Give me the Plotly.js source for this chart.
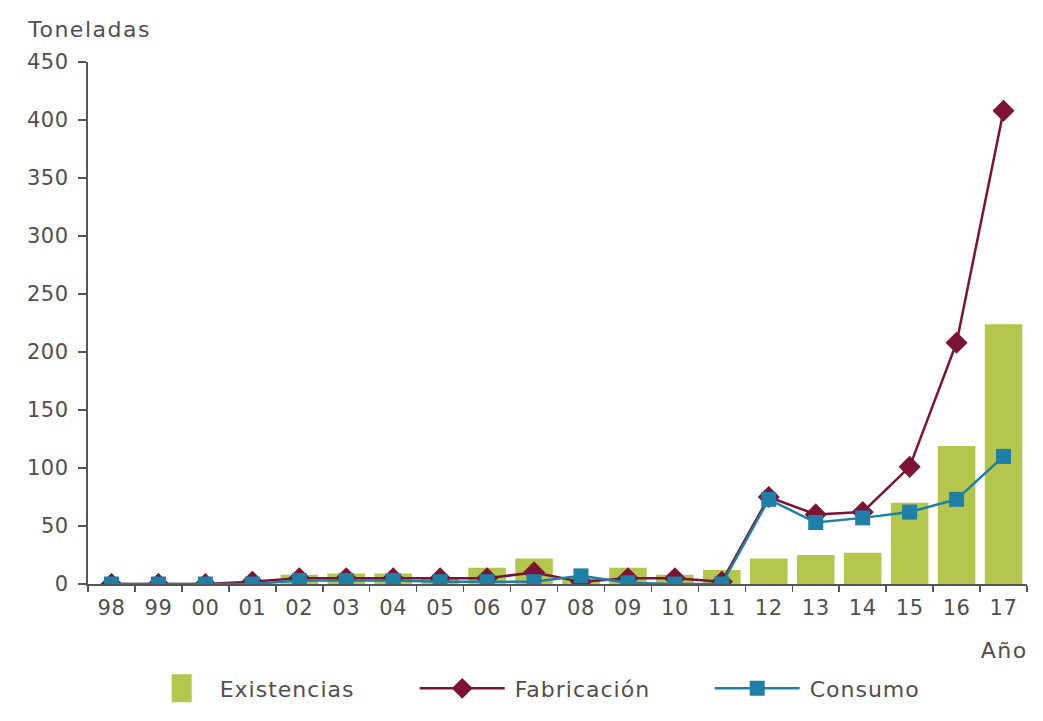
<!DOCTYPE html>
<html>
<head>
<meta charset="utf-8">
<script src="https://cdn.plot.ly/plotly-3.0.1.min.js"></script>
<style>
html,body{margin:0;padding:0;background:#fff;}
#chart{width:1043px;height:721px;}
#chart .xtick text, #chart .ytick text{letter-spacing:0.6px;}
#chart .legendtext{letter-spacing:1px;}
#chart .annotation-text{letter-spacing:1.5px;}
</style>
</head>
<body>
<div id="chart"></div>
<script>
const years = ["98","99","00","01","02","03","04","05","06","07","08","09","10","11","12","13","14","15","16","17"];
const existencias = [0,0,0,2,8,9,9,6,14,22,5,14,8,12,22,25,27,70,119,224];
const fabricacion = [0,0,0,2,5,5,5,5,5,10,2,5,5,2,75,60,62,101,208,408];
const consumo = [0,0,0,0,3,3,3,2,2,2,7,1,0,0,73,53,57,62,73,110];

const textColor = "#4f4f4f";
const fam = "DejaVu Sans, Arial, sans-serif";
const font = {family: fam, size: 21, color: textColor};

const data = [
  {type: "bar", name: "Existencias", x: years, y: existencias, width: 0.8,
   marker: {color: "#b4c74c"}},
  {type: "scatter", mode: "lines+markers", name: "Fabricación", x: years, y: fabricacion,
   line: {color: "#7c1235", width: 2.5},
   marker: {symbol: "diamond", size: 17, color: "#7c1235"}},
  {type: "scatter", mode: "lines+markers", name: "Consumo", x: years, y: consumo,
   line: {color: "#1f7fa6", width: 2.5},
   marker: {symbol: "square", size: 15, color: "#1f7fa6"}}
];

const layout = {
  width: 1043, height: 721,
  margin: {l: 88, r: 16, t: 62, b: 135},
  paper_bgcolor: "#ffffff", plot_bgcolor: "#ffffff",
  font: font,
  showlegend: true,
  legend: {orientation: "h", x: 0.505, xanchor: "center", y: -0.16, yanchor: "top",
           font: {family: fam, size: 22, color: textColor},
           itemwidth: 90, entrywidth: 190, entrywidthmode: "pixels"},
  bargap: 0.2,
  xaxis: {type: "category", range: [-0.5, 19.5], showline: true, linecolor: "#555", linewidth: 2,
          ticks: "outside", tickson: "boundaries", ticklen: 6, tickcolor: "#555", tickwidth: 1.5,
          ticklabelstandoff: 4, automargin: false,
          showgrid: false, zeroline: false, tickfont: font},
  yaxis: {range: [0, 450], dtick: 50, showline: true, linecolor: "#555", linewidth: 2,
          ticks: "outside", ticklen: 8, tickcolor: "#555", tickwidth: 1.5,
          ticklabelstandoff: 5, automargin: false,
          showgrid: false, zeroline: false, tickfont: font},
  annotations: [
    {text: "Toneladas", xref: "paper", yref: "paper", x: -0.06, y: 1.035, xanchor: "left", yanchor: "bottom",
     showarrow: false, font: {family: fam, size: 22, color: textColor}},
    {text: "Año", xref: "paper", yref: "paper", x: 1.0, y: -0.1, xanchor: "right", yanchor: "top",
     showarrow: false, font: {family: fam, size: 22, color: textColor}}
  ]
};

Plotly.newPlot("chart", data, layout, {displayModeBar: false, staticPlot: true}).then(function (gd) {
  // Restyle legend symbols: longer lines with centred markers, larger bar swatch
  const groups = gd.querySelectorAll(".legend .traces");
  groups.forEach(function (g, i) {
    g.querySelectorAll(".legendlines path").forEach(function (p) { p.setAttribute("d", "M5,0h85"); });
    g.querySelectorAll(".legendpoints path").forEach(function (p) {
      if (i === 0) {
        p.setAttribute("d", "M10,14H-10V-14H10Z");
        p.setAttribute("transform", "translate(62,0)");
      } else {
        p.setAttribute("transform", "translate(47.5,0)");
      }
    });
  });
});
</script>
</body>
</html>
